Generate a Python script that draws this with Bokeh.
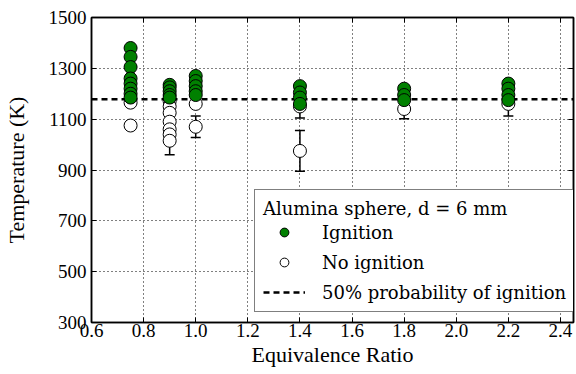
from bokeh.plotting import figure
from bokeh.models import (Range1d, FixedTicker, LinearAxis, Legend, LegendItem,
                          ColumnDataSource, Whisker, TeeHead, NumeralTickFormatter)
from bokeh.embed import file_html
from bokeh.resources import INLINE

# ---------------- data ----------------
ign_phi = [0.75]*8 + [0.9]*5 + [1.0]*5 + [1.4]*4 + [1.8]*3 + [2.2]*4
ign_T = [1380, 1345, 1305, 1260, 1240, 1220, 1200, 1185,
         1235, 1225, 1210, 1195, 1185,
         1270, 1250, 1230, 1210, 1195,
         1230, 1205, 1185, 1160,
         1220, 1195, 1175,
         1240, 1220, 1195, 1175]
noign_phi = [0.75]*2 + [0.9]*7 + [1.0]*2 + [1.4]*2 + [1.8] + [2.2]
noign_T = [1165, 1075,
           1170, 1150, 1125, 1090, 1060, 1040, 1015,
           1160, 1070,
           1150, 975,
           1140,
           1160]
err_phi = [0.9, 1.0, 1.4, 1.4, 1.8, 2.2]
err_T = [1015, 1070, 1150, 975, 1140, 1160]
err_dT = [55, 42, 45, 80, 38, 48]
T_50 = 1178
x_ticks = [0.6, 0.8, 1.0, 1.2, 1.4, 1.6, 1.8, 2.0, 2.2, 2.4]
y_ticks = [300, 500, 700, 900, 1100, 1300, 1500]
x_lo, x_hi = 0.6, 2.45
y_lo, y_hi = 300, 1500

FONT = "serif"
FONT_LEG = "DejaVu Serif"
FS_TICK = "19px"
FS_LAB = "22px"
FS_LEG = "18px"

p = figure(width=576, height=374, output_backend="svg", toolbar_location=None,
           x_range=Range1d(x_lo, x_hi), y_range=Range1d(y_lo, y_hi),
           min_border_left=89, min_border_right=3, min_border_top=17, min_border_bottom=52)
p.outline_line_color = "black"
p.outline_line_width = 1.5
p.background_fill_color = "white"
p.border_fill_color = "white"

for ax in (p.xaxis[0], p.yaxis[0]):
    ax.axis_line_width = 1.5
    ax.axis_line_color = "black"
    ax.major_tick_in = 5
    ax.major_tick_out = 0
    ax.minor_tick_line_color = None
    ax.major_tick_line_color = "black"
    ax.major_label_text_font = FONT
    ax.major_label_text_font_size = FS_TICK
    ax.major_label_text_color = "black"
    ax.axis_label_text_font = FONT
    ax.axis_label_text_font_size = FS_LAB
    ax.axis_label_text_font_style = "normal"
    ax.axis_label_text_color = "black"
p.xaxis[0].ticker = FixedTicker(ticks=x_ticks)
p.yaxis[0].ticker = FixedTicker(ticks=y_ticks)
p.xaxis[0].formatter = NumeralTickFormatter(format="0.0")
p.xaxis[0].axis_label = "Equivalence Ratio"
p.yaxis[0].axis_label = "Temperature (K)"
p.xaxis[0].major_label_standoff = 1
p.yaxis[0].major_label_standoff = 5
p.xaxis[0].axis_label_standoff = 2
p.yaxis[0].axis_label_standoff = 17

for loc, tk in (("above", x_ticks), ("right", y_ticks)):
    a = LinearAxis(ticker=FixedTicker(ticks=tk), major_tick_in=5, major_tick_out=0,
                   minor_tick_line_color=None, major_label_overrides={t: "" for t in tk},
                   major_label_standoff=0, axis_line_width=1.5)
    p.add_layout(a, loc)

for g in (p.xgrid[0], p.ygrid[0]):
    g.grid_line_color = "black"
    g.grid_line_dash = "1 3"
    g.grid_line_width = 1
p.xgrid[0].ticker = FixedTicker(ticks=x_ticks)
p.ygrid[0].ticker = FixedTicker(ticks=y_ticks)

esrc = ColumnDataSource(dict(x=err_phi, lo=[t - d for t, d in zip(err_T, err_dT)],
                             hi=[t + d for t, d in zip(err_T, err_dT)]))
wh = Whisker(base="x", lower="lo", upper="hi", source=esrc, level="underlay",
             line_color="black", line_width=1.5,
             upper_head=TeeHead(size=10, line_color="black", line_width=1.5),
             lower_head=TeeHead(size=10, line_color="black", line_width=1.5))
p.add_layout(wh)

r_line = p.line(x=[x_lo, x_hi], y=[T_50, T_50], line_color="black", line_width=2.5,
                line_dash="6 4")
r_no = p.scatter(x=noign_phi, y=noign_T, marker="circle", size=13,
                 fill_color="white", line_color="black", line_width=1)
r_ig = p.scatter(x=ign_phi, y=ign_T, marker="circle", size=13,
                 fill_color="#008000", line_color="black", line_width=1)

leg = Legend(items=[LegendItem(label="Ignition", renderers=[r_ig]),
                    LegendItem(label="No ignition", renderers=[r_no]),
                    LegendItem(label="50% probability of ignition", renderers=[r_line])],
             location=(163, 10), title="Alumina sphere, d = 6 mm",
             title_text_font=FONT_LEG, title_text_font_size=FS_LEG, title_text_font_style="normal",
             title_text_color="black", title_standoff=2,
             label_text_font=FONT_LEG, label_text_font_size=FS_LEG, label_text_color="black",
             border_line_color="black", border_line_width=1.5, background_fill_alpha=1,
             padding=8, spacing=8, glyph_width=42, glyph_height=22, label_height=22,
             label_standoff=17, margin=0)
p.add_layout(leg)

open("out.html", "w").write(file_html(p, INLINE))
